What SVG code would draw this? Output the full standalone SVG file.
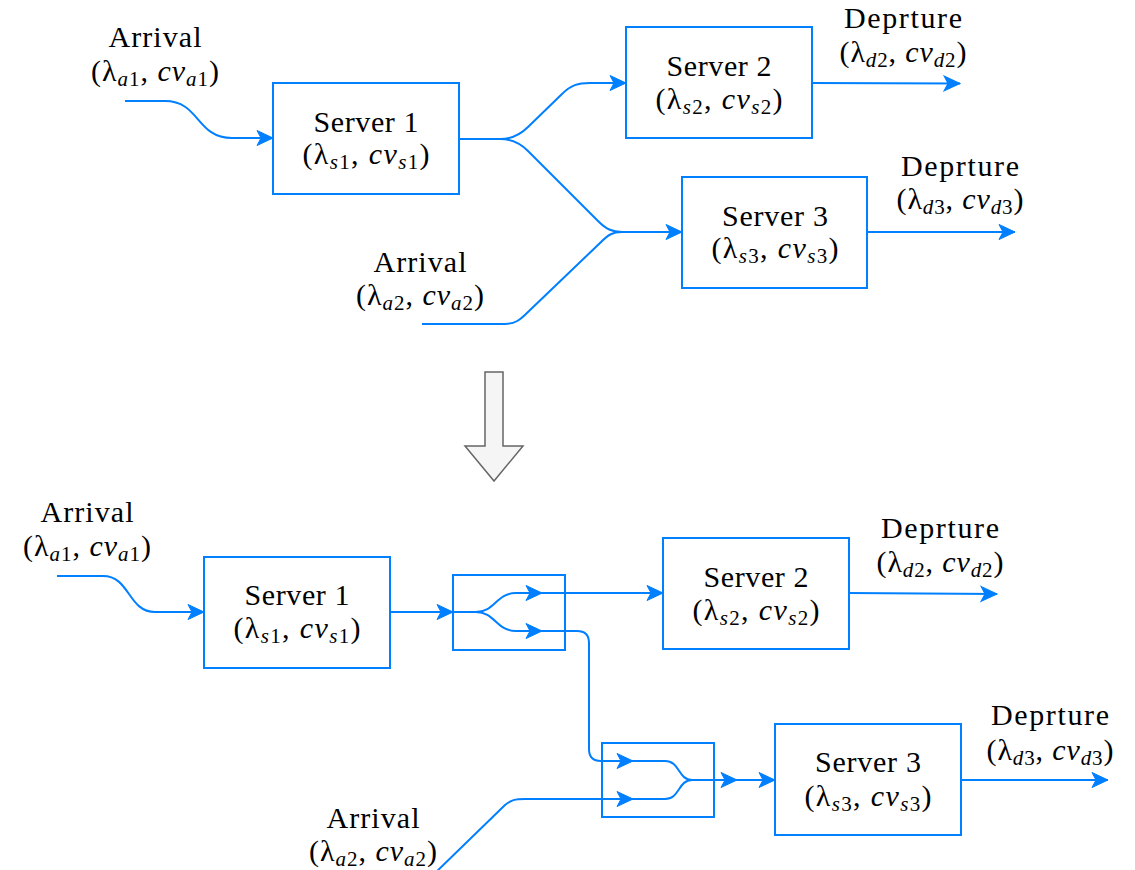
<svg xmlns="http://www.w3.org/2000/svg" width="1135" height="870" viewBox="0 0 1135 870">
  <style>
    .box { fill: #ffffff; stroke: #007fff; stroke-width: 2; }
    .frame { fill: none; stroke: #007fff; stroke-width: 2; }
    .wire { fill: none; stroke: #007fff; stroke-width: 2; }
    .lbl { font-family: "Liberation Serif", "DejaVu Serif", serif; font-size: 30px; fill: #000000; text-anchor: middle; }
    .sb { font-size: 21px; font-style: italic; }
    .n { font-style: normal; }
    .i { font-style: italic; }
    .big { fill: #f5f5f5; stroke: #666666; stroke-width: 1.5; stroke-linejoin: miter; }
  </style>
  <defs>
    <!-- classic filled arrowhead, tip at the path end -->
    <marker id="arrow" markerWidth="18" markerHeight="18" refX="17" refY="9" orient="auto" markerUnits="userSpaceOnUse" style="overflow:visible">
      <path d="M1,1.5 L17,9 L1,16.5 L5,9 Z" fill="#007fff" stroke="#007fff" stroke-width="1" stroke-linejoin="miter"/>
    </marker>
  </defs>

  <rect width="1135" height="870" fill="#ffffff"/>

  <!-- connectors -->
  <g id="connectors">
    <!-- upper network -->
    <path class="wire" d="M125,101 L165,101 C200,101 196,138 232,138 L273,138" marker-end="url(#arrow)"/>
    <path class="wire" d="M459,139 L500,139 C512,139 520,135 528,127 L562,94 C571,85 578,83 590,83 L626,83" marker-end="url(#arrow)"/>
    <path class="wire" d="M500,139 C512,139 520,143 528,151 L598,221 C606,229 612,232 622,232 L682,232" marker-end="url(#arrow)"/>
    <path class="wire" d="M422,324 L505,324 C515,324 520,320 528,312 L600,243 C608,235 612,232 622,232"/>
    <path class="wire" d="M812,83 L960,83.5" marker-end="url(#arrow)"/>
    <path class="wire" d="M867,232 L1015,232" marker-end="url(#arrow)"/>

    <!-- lower network -->
    <path class="wire" d="M57,576 L103,576 C130,576 128,612 155,612 L204,612" marker-end="url(#arrow)"/>
    <path class="wire" d="M390,612 L453,612" marker-end="url(#arrow)"/>
    <path class="wire" d="M453,612 L476,612 C495,612 496,593 516,593 L542,593" marker-end="url(#arrow)"/>
    <path class="wire" d="M476,612 C495,612 496,631 516,631 L542,631" marker-end="url(#arrow)"/>
    <path class="wire" d="M542,593 L663,593" marker-end="url(#arrow)"/>
    <path class="wire" d="M542,631 L577,631 Q589,631 589,643 L589,749 Q589,761 601,761 L633,761" marker-end="url(#arrow)"/>
    <path class="wire" d="M432,876 L505,805 C511,800 515,799 525,799 L633,799" marker-end="url(#arrow)"/>
    <path class="wire" d="M633,761 L665,761 C680,761 678,780 692,780 L737,780" marker-end="url(#arrow)"/>
    <path class="wire" d="M633,799 L665,799 C680,799 678,780 692,780"/>
    <path class="wire" d="M737,780 L775,780" marker-end="url(#arrow)"/>
    <path class="wire" d="M849,593 L997,594" marker-end="url(#arrow)"/>
    <path class="wire" d="M961,780 L1108,780" marker-end="url(#arrow)"/>
  </g>

  <!-- upper network: servers and labels -->
  <g id="top-arrival-1">
    <text class="lbl" x="155" y="47" textLength="93" lengthAdjust="spacing">Arrival</text>
    <text class="lbl" x="155" y="81" textLength="128" lengthAdjust="spacing">(λ<tspan class="sb" dy="5">a</tspan><tspan class="sb n">1</tspan><tspan dy="-5">, </tspan><tspan class="i">cv</tspan><tspan class="sb" dy="5">a</tspan><tspan class="sb n">1</tspan><tspan dy="-5">)</tspan></text>
  </g>
  <g id="top-server-1">
    <rect class="box" x="273" y="83" width="186" height="111"/>
    <text class="lbl" x="366" y="132" textLength="105" lengthAdjust="spacing">Server 1</text>
    <text class="lbl" x="366" y="164" textLength="127" lengthAdjust="spacing">(λ<tspan class="sb" dy="5">s</tspan><tspan class="sb n">1</tspan><tspan dy="-5">, </tspan><tspan class="i">cv</tspan><tspan class="sb" dy="5">s</tspan><tspan class="sb n">1</tspan><tspan dy="-5">)</tspan></text>
  </g>
  <g id="top-server-2">
    <rect class="box" x="626" y="27" width="186" height="111"/>
    <text class="lbl" x="719" y="76" textLength="105" lengthAdjust="spacing">Server 2</text>
    <text class="lbl" x="719" y="109" textLength="127" lengthAdjust="spacing">(λ<tspan class="sb" dy="5">s</tspan><tspan class="sb n">2</tspan><tspan dy="-5">, </tspan><tspan class="i">cv</tspan><tspan class="sb" dy="5">s</tspan><tspan class="sb n">2</tspan><tspan dy="-5">)</tspan></text>
  </g>
  <g id="top-departure-2">
    <text class="lbl" x="903" y="28" textLength="118" lengthAdjust="spacing">Deprture</text>
    <text class="lbl" x="903" y="62" textLength="127" lengthAdjust="spacing">(λ<tspan class="sb" dy="5">d</tspan><tspan class="sb n">2</tspan><tspan dy="-5">, </tspan><tspan class="i">cv</tspan><tspan class="sb" dy="5">d</tspan><tspan class="sb n">2</tspan><tspan dy="-5">)</tspan></text>
  </g>
  <g id="top-server-3">
    <rect class="box" x="682" y="177" width="185" height="111"/>
    <text class="lbl" x="775" y="226" textLength="106" lengthAdjust="spacing">Server 3</text>
    <text class="lbl" x="775" y="258" textLength="127" lengthAdjust="spacing">(λ<tspan class="sb" dy="5">s</tspan><tspan class="sb n">3</tspan><tspan dy="-5">, </tspan><tspan class="i">cv</tspan><tspan class="sb" dy="5">s</tspan><tspan class="sb n">3</tspan><tspan dy="-5">)</tspan></text>
  </g>
  <g id="top-departure-3">
    <text class="lbl" x="960" y="176" textLength="118" lengthAdjust="spacing">Deprture</text>
    <text class="lbl" x="960" y="209" textLength="127" lengthAdjust="spacing">(λ<tspan class="sb" dy="5">d</tspan><tspan class="sb n">3</tspan><tspan dy="-5">, </tspan><tspan class="i">cv</tspan><tspan class="sb" dy="5">d</tspan><tspan class="sb n">3</tspan><tspan dy="-5">)</tspan></text>
  </g>
  <g id="top-arrival-2">
    <text class="lbl" x="420" y="272" textLength="93" lengthAdjust="spacing">Arrival</text>
    <text class="lbl" x="420" y="305" textLength="128" lengthAdjust="spacing">(λ<tspan class="sb" dy="5">a</tspan><tspan class="sb n">2</tspan><tspan dy="-5">, </tspan><tspan class="i">cv</tspan><tspan class="sb" dy="5">a</tspan><tspan class="sb n">2</tspan><tspan dy="-5">)</tspan></text>
  </g>

  <!-- transformation arrow -->
  <g id="transform-arrow">
    <polygon class="big" points="485,372 503,372 503,446 523,446 494,481 465,446 485,446"/>
  </g>

  <!-- lower network: servers, splitter, merger and labels -->
  <g id="bottom-arrival-1">
    <text class="lbl" x="87" y="522" textLength="93" lengthAdjust="spacing">Arrival</text>
    <text class="lbl" x="87" y="556" textLength="128" lengthAdjust="spacing">(λ<tspan class="sb" dy="5">a</tspan><tspan class="sb n">1</tspan><tspan dy="-5">, </tspan><tspan class="i">cv</tspan><tspan class="sb" dy="5">a</tspan><tspan class="sb n">1</tspan><tspan dy="-5">)</tspan></text>
  </g>
  <g id="bottom-server-1">
    <rect class="box" x="204" y="557" width="186" height="111"/>
    <text class="lbl" x="297" y="605" textLength="105" lengthAdjust="spacing">Server 1</text>
    <text class="lbl" x="297" y="638" textLength="127" lengthAdjust="spacing">(λ<tspan class="sb" dy="5">s</tspan><tspan class="sb n">1</tspan><tspan dy="-5">, </tspan><tspan class="i">cv</tspan><tspan class="sb" dy="5">s</tspan><tspan class="sb n">1</tspan><tspan dy="-5">)</tspan></text>
  </g>
  <g id="bottom-splitter">
    <rect class="frame" x="453" y="575" width="112" height="75"/>
  </g>
  <g id="bottom-server-2">
    <rect class="box" x="663" y="538" width="186" height="111"/>
    <text class="lbl" x="756" y="587" textLength="105" lengthAdjust="spacing">Server 2</text>
    <text class="lbl" x="756" y="620" textLength="127" lengthAdjust="spacing">(λ<tspan class="sb" dy="5">s</tspan><tspan class="sb n">2</tspan><tspan dy="-5">, </tspan><tspan class="i">cv</tspan><tspan class="sb" dy="5">s</tspan><tspan class="sb n">2</tspan><tspan dy="-5">)</tspan></text>
  </g>
  <g id="bottom-departure-2">
    <text class="lbl" x="940" y="538" textLength="118" lengthAdjust="spacing">Deprture</text>
    <text class="lbl" x="940" y="572" textLength="127" lengthAdjust="spacing">(λ<tspan class="sb" dy="5">d</tspan><tspan class="sb n">2</tspan><tspan dy="-5">, </tspan><tspan class="i">cv</tspan><tspan class="sb" dy="5">d</tspan><tspan class="sb n">2</tspan><tspan dy="-5">)</tspan></text>
  </g>
  <g id="bottom-merger">
    <rect class="frame" x="602" y="743" width="112" height="74"/>
  </g>
  <g id="bottom-server-3">
    <rect class="box" x="775" y="724" width="186" height="111"/>
    <text class="lbl" x="868" y="772" textLength="106" lengthAdjust="spacing">Server 3</text>
    <text class="lbl" x="868" y="806" textLength="127" lengthAdjust="spacing">(λ<tspan class="sb" dy="5">s</tspan><tspan class="sb n">3</tspan><tspan dy="-5">, </tspan><tspan class="i">cv</tspan><tspan class="sb" dy="5">s</tspan><tspan class="sb n">3</tspan><tspan dy="-5">)</tspan></text>
  </g>
  <g id="bottom-departure-3">
    <text class="lbl" x="1050" y="725" textLength="118" lengthAdjust="spacing">Deprture</text>
    <text class="lbl" x="1050" y="760" textLength="127" lengthAdjust="spacing">(λ<tspan class="sb" dy="5">d</tspan><tspan class="sb n">3</tspan><tspan dy="-5">, </tspan><tspan class="i">cv</tspan><tspan class="sb" dy="5">d</tspan><tspan class="sb n">3</tspan><tspan dy="-5">)</tspan></text>
  </g>
  <g id="bottom-arrival-2">
    <text class="lbl" x="373" y="828" textLength="93" lengthAdjust="spacing">Arrival</text>
    <text class="lbl" x="373" y="861" textLength="128" lengthAdjust="spacing">(λ<tspan class="sb" dy="5">a</tspan><tspan class="sb n">2</tspan><tspan dy="-5">, </tspan><tspan class="i">cv</tspan><tspan class="sb" dy="5">a</tspan><tspan class="sb n">2</tspan><tspan dy="-5">)</tspan></text>
  </g>
</svg>
